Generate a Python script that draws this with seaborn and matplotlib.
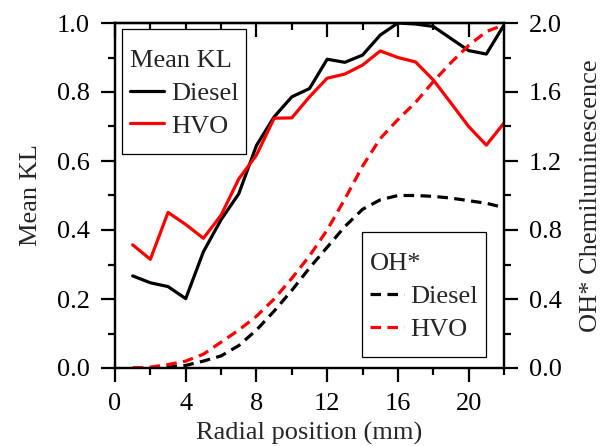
import numpy as np
import pandas as pd
import matplotlib
matplotlib.use('Agg')
import matplotlib.pyplot as plt
from matplotlib.path import Path
from matplotlib.ticker import MultipleLocator, FormatStrFormatter
import seaborn as sns

# radial positions (mm)
pos = [1, 2, 3, 4, 5, 6, 7, 8, 9, 10, 11, 12, 13, 14, 15, 16, 17, 18, 19, 20, 21, 22]

# Mean KL (left axis)
kl_diesel = [0.267, 0.247, 0.236, 0.201, 0.337, 0.430, 0.505, 0.645, 0.728, 0.786, 0.810,
             0.895, 0.886, 0.907, 0.965, 1.000, 0.997, 0.990, 0.955, 0.920, 0.910, 0.994]
kl_hvo = [0.357, 0.315, 0.451, 0.416, 0.376, 0.443, 0.548, 0.617, 0.724, 0.725, 0.786,
          0.840, 0.852, 0.878, 0.919, 0.900, 0.887, 0.835, 0.768, 0.700, 0.646, 0.710]

# OH* chemiluminescence (right axis)
oh_diesel = [0.0, 0.0, 0.005, 0.015, 0.04, 0.07, 0.13, 0.22, 0.33, 0.45, 0.58,
             0.70, 0.82, 0.92, 0.975, 1.0, 1.0, 0.995, 0.985, 0.97, 0.955, 0.93]
oh_hvo = [0.0, 0.005, 0.02, 0.04, 0.08, 0.15, 0.22, 0.30, 0.40, 0.52, 0.65,
          0.80, 0.98, 1.17, 1.33, 1.44, 1.54, 1.66, 1.77, 1.87, 1.95, 1.99]

kl = pd.DataFrame({'pos': pos * 2, 'val': kl_diesel + kl_hvo,
                   'fuel': ['Diesel'] * len(pos) + ['HVO'] * len(pos)})
oh = pd.DataFrame({'pos': pos * 2, 'val': oh_diesel + oh_hvo,
                   'fuel': ['Diesel'] * len(pos) + ['HVO'] * len(pos)})

sns.set_style('ticks')
plt.rcParams['font.family'] = ['Liberation Serif', 'DejaVu Serif']
plt.rcParams['font.size'] = 19
plt.rcParams['axes.linewidth'] = 1.6
plt.rcParams['axes.edgecolor'] = 'black'
plt.rcParams['xtick.color'] = 'black'
plt.rcParams['ytick.color'] = 'black'

fs = 19
colors = {'Diesel': 'black', 'HVO': '#ff0000'}


def legend_frame(x0, y0, width, height, mutation_size):
    # frame a little taller than the packed legend (more room above the title)
    top = 0.5 * mutation_size
    bot = 0.3 * mutation_size
    verts = [(x0, y0 - bot), (x0 + width, y0 - bot), (x0 + width, y0 + height + top),
             (x0, y0 + height + top), (x0, y0 - bot)]
    return Path(verts, closed=True)


fig, ax = plt.subplots(figsize=(6.05, 4.46), dpi=100)
fig.subplots_adjust(left=115/605, right=504/605, top=1-23/446, bottom=1-368/446)
ax2 = ax.twinx()

sns.lineplot(data=kl, x='pos', y='val', hue='fuel', palette=colors, ax=ax,
             linewidth=2.3, legend=False)
sns.lineplot(data=oh, x='pos', y='val', hue='fuel', palette=colors, ax=ax2,
             linewidth=2.3, legend=False)
for ln in ax2.get_lines():
    ln.set_linestyle((0, (3.3, 2.0)))

ax.set_xlim(0, 22)
ax.set_ylim(0, 1.0)
ax2.set_ylim(0, 2.0)

ax.xaxis.set_major_locator(MultipleLocator(4))
ax.xaxis.set_minor_locator(MultipleLocator(2))
ax.yaxis.set_major_locator(MultipleLocator(0.2))
ax.yaxis.set_minor_locator(MultipleLocator(0.1))
ax2.yaxis.set_major_locator(MultipleLocator(0.4))
ax2.yaxis.set_minor_locator(MultipleLocator(0.2))
ax.yaxis.set_major_formatter(FormatStrFormatter('%.1f'))
ax2.yaxis.set_major_formatter(FormatStrFormatter('%.1f'))

for a in (ax, ax2):
    a.tick_params(which='major', direction='out', length=10, width=1.6,
                  color='black', labelsize=fs, pad=8)
    a.tick_params(which='minor', direction='out', length=5, width=1.6, color='black')
ax.tick_params(axis='x', which='both', bottom=True, top=False)
ax.tick_params(axis='y', which='both', left=True, right=False)

# top ticks pointing inward
top = ax.secondary_xaxis('top')
top.xaxis.set_major_locator(MultipleLocator(4))
top.xaxis.set_minor_locator(MultipleLocator(2))
top.tick_params(which='major', direction='in', length=10, width=1.6, color='black',
                labeltop=False)
top.tick_params(which='minor', direction='in', length=5, width=1.6, color='black')
top.spines['top'].set_linewidth(1.6)

ax.set_xlabel('Radial position (mm)', fontsize=fs, labelpad=5)
ax.set_ylabel('Mean KL', fontsize=fs, labelpad=11)
ax2.set_ylabel('OH* Chemiluminescence', fontsize=fs, labelpad=13)

leg_kw = dict(frameon=True, fancybox=False, framealpha=1, edgecolor='black',
              fontsize=fs, title_fontsize=fs, handlelength=1.3, handletextpad=0.25,
              borderpad=0.3, labelspacing=0.36, borderaxespad=0, alignment='left')
l1 = ax.legend(ax.get_lines()[:2], ['Diesel', 'HVO'], title='Mean KL',
               loc='upper left', bbox_to_anchor=(0.018, 0.983 - 13/345), **leg_kw)
l1.get_frame().set_boxstyle(legend_frame)
l1.get_frame().set_linewidth(0.9)
l1.set_zorder(10)
l2 = ax2.legend(ax2.get_lines()[:2], ['Diesel', 'HVO'], title='OH*',
                loc='lower right', bbox_to_anchor=(0.954, 0.032 + 8/345), **leg_kw)
l2.get_frame().set_boxstyle(legend_frame)
l2.get_frame().set_linewidth(0.9)

fig.savefig('out.png', dpi=100)
